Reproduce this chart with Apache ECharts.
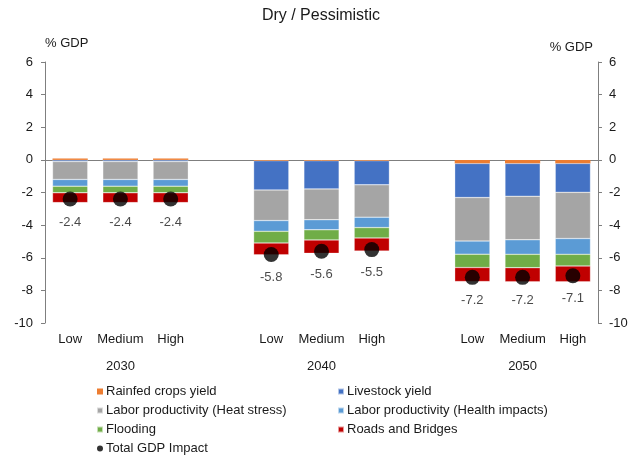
<!DOCTYPE html>
<html>
<head>
<meta charset="utf-8">
<script src="https://cdn.jsdelivr.net/npm/echarts@6/dist/echarts.min.js"></script>
<style>
  html, body { margin: 0; padding: 0; background: #fff; }
  #chart { width: 639px; height: 460px; }
</style>
</head>
<body>
<div id="chart"></div>
<script>
// Scenario buckets along the x axis; blank slots separate the decades
const categories = ['Low', 'Medium', 'High', '', 'Low', 'Medium', 'High', '', 'Low', 'Medium', 'High'];
const yearLabels = ['', '2030', '', '', '', '2040', '', '', '', '2050', ''];

// Channel contributions, % of GDP
const rainfed   = [0.09, 0.09, 0.09, null, -0.05, -0.05, -0.05, null, -0.22, -0.22, -0.22];
const livestock = [-0.10, -0.10, -0.10, null, -1.80, -1.73, -1.48, null, -2.09, -2.01, -1.77];
const heat      = [-1.10, -1.10, -1.10, null, -1.87, -1.89, -1.98, null, -2.67, -2.67, -2.83];
const health    = [-0.41, -0.41, -0.41, null, -0.66, -0.62, -0.64, null, -0.80, -0.89, -0.97];
const flooding  = [-0.41, -0.41, -0.41, null, -0.72, -0.62, -0.64, null, -0.82, -0.82, -0.72];
const roads     = [-0.60, -0.60, -0.60, null, -0.72, -0.82, -0.80, null, -0.86, -0.86, -0.96];
const totalGdp  = [-2.4, -2.4, -2.4, null, -5.8, -5.6, -5.5, null, -7.2, -7.2, -7.1];

const yTicks = { min: -10, max: 6, interval: 2 };

const FONT = 'Liberation Sans, Arial, sans-serif';
const TXT = '#1a1a1a';
const AXIS = '#7f7f7f';
const FS = 13;

const toData = arr => arr.map(v => (v === null ? '-' : v));

function barSeries(name, data, color, withZero) {
  const s = {
    name, type: 'bar', stack: 'total', data: toData(data), barWidth: '70%',
    itemStyle: withZero
      ? { color }
      : { color, borderColor: 'rgba(255,255,255,0.6)', borderWidth: 0.5 },
    emphasis: { disabled: true }
  };
  if (withZero) {
    s.markLine = {
      silent: true, symbol: 'none', animation: false, z: 1,
      label: { show: false },
      lineStyle: { color: AXIS, width: 1, type: 'solid' },
      data: [{ yAxis: 0 }]
    };
  }
  return s;
}

const legendBase = {
  orient: 'vertical', top: 384, height: 90, padding: 0,
  itemWidth: 6, itemHeight: 6, itemGap: 4,
  textStyle: { fontFamily: FONT, fontSize: FS, color: TXT, lineHeight: 15, padding: [0, 0, 0, -2] }
};

const chart = echarts.init(document.getElementById('chart'), null, { renderer: 'canvas' });

chart.setOption({
  animation: false,
  backgroundColor: '#fff',
  textStyle: { fontFamily: FONT, color: TXT },
  title: {
    text: 'Dry / Pessimistic', left: 321, top: 8, textAlign: 'center', padding: 0,
    textStyle: { fontFamily: FONT, fontSize: 16, fontWeight: 'normal', color: TXT }
  },
  grid: { left: 45, right: 41, top: 62, bottom: 137, containLabel: false },
  legend: [
    Object.assign({}, legendBase, {
      left: 96,
      data: [
        { name: 'Rainfed crops yield', icon: 'rect' },
        { name: 'Labor productivity (Heat stress)', icon: 'rect' },
        { name: 'Flooding', icon: 'rect' },
        { name: 'Total GDP Impact', icon: 'circle' }
      ]
    }),
    Object.assign({}, legendBase, {
      left: 337,
      data: [
        { name: 'Livestock yield', icon: 'rect' },
        { name: 'Labor productivity (Health impacts)', icon: 'rect' },
        { name: 'Roads and Bridges', icon: 'rect' }
      ]
    })
  ],
  xAxis: [
    {
      type: 'category', data: categories, position: 'bottom',
      axisLine: { show: false }, axisTick: { show: false },
      axisLabel: { interval: 0, margin: 10, fontFamily: FONT, fontSize: FS, color: TXT }
    },
    {
      type: 'category', data: yearLabels, position: 'bottom', offset: 27,
      axisLine: { show: false }, axisTick: { show: false },
      axisLabel: { interval: 0, margin: 10, fontFamily: FONT, fontSize: FS, color: TXT }
    }
  ],
  yAxis: [
    {
      type: 'value', position: 'left', min: yTicks.min, max: yTicks.max, interval: yTicks.interval,
      name: '% GDP', nameLocation: 'end', nameGap: 12,
      nameTextStyle: { fontFamily: FONT, fontSize: FS, color: TXT, align: 'left', padding: 0 },
      axisLine: { show: true, lineStyle: { color: AXIS } },
      axisTick: { show: true, length: 4, lineStyle: { color: AXIS } },
      splitLine: { show: false },
      axisLabel: { margin: 12, fontFamily: FONT, fontSize: FS, color: TXT }
    },
    {
      type: 'value', position: 'right', min: yTicks.min, max: yTicks.max, interval: yTicks.interval,
      name: '% GDP', nameLocation: 'end', nameGap: 8,
      nameTextStyle: { fontFamily: FONT, fontSize: FS, color: TXT, align: 'right', padding: [0, 5, 0, 0] },
      axisLine: { show: true, lineStyle: { color: AXIS } },
      axisTick: { show: true, length: 4, lineStyle: { color: AXIS } },
      splitLine: { show: false },
      axisLabel: { margin: 11, fontFamily: FONT, fontSize: FS, color: TXT }
    }
  ],
  series: [
    barSeries('Rainfed crops yield', rainfed, '#ED7D31', true),
    barSeries('Livestock yield', livestock, '#4472C4'),
    barSeries('Labor productivity (Heat stress)', heat, '#A5A5A5'),
    barSeries('Labor productivity (Health impacts)', health, '#5B9BD5'),
    barSeries('Flooding', flooding, '#70AD47'),
    barSeries('Roads and Bridges', roads, '#C00000'),
    {
      name: 'Total GDP Impact', type: 'scatter', data: toData(totalGdp),
      symbol: 'circle', symbolSize: 15, z: 5,
      itemStyle: { color: '#000' },
      emphasis: { disabled: true },
      label: {
        show: true, position: 'bottom', distance: 9,
        fontFamily: FONT, fontSize: FS, color: TXT,
        formatter: p => Number(p.value).toFixed(1)
      }
    }
  ]
});
</script>
</body>
</html>
